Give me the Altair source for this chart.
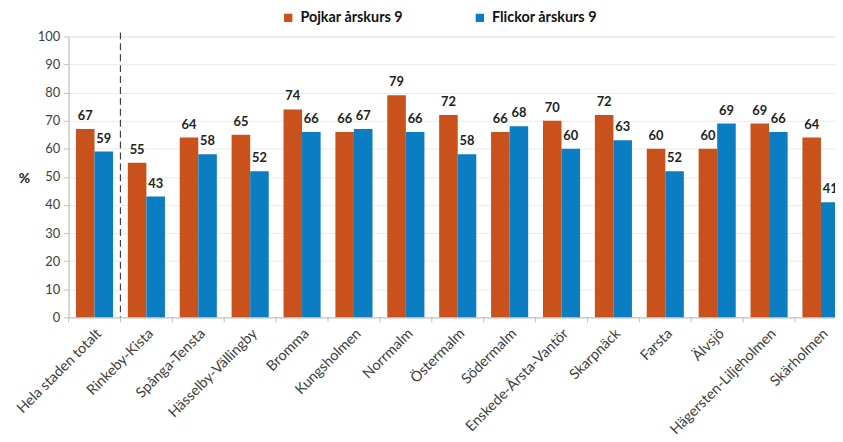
import altair as alt
import pandas as pd

categories = ["Hela staden totalt", "Rinkeby-Kista", "Spånga-Tensta", "Hässelby-Vällingby",
              "Bromma", "Kungsholmen", "Norrmalm", "Östermalm", "Södermalm",
              "Enskede-Årsta-Vantör", "Skarpnäck", "Farsta", "Älvsjö",
              "Hägersten-Liljeholmen", "Skärholmen"]
pojkar = [67, 55, 64, 65, 74, 66, 79, 72, 66, 70, 72, 60, 60, 69, 64]
flickor = [59, 43, 58, 52, 66, 67, 66, 58, 68, 60, 63, 52, 69, 66, 41]
series = ["Pojkar årskurs 9", "Flickor årskurs 9"]
colors = ["#C9511C", "#0A7DC3"]
y_ticks = list(range(0, 101, 10))

rows = []
for c, p, f in zip(categories, pojkar, flickor):
    rows.append({"cat": c, "serie": series[0], "val": p})
    rows.append({"cat": c, "serie": series[1], "val": f})
df = pd.DataFrame(rows)
cat_df = pd.DataFrame({"cat": categories})
sep_df = pd.DataFrame({"cat": [categories[1]]})

W, H = 784, 283
FONT = "Lato"

xscale = alt.Scale(domain=categories, paddingInner=0.285, paddingOuter=0.1425)
yscale = alt.Scale(domain=[0, 100], nice=False)

x_axis = alt.Axis(title=None, labelAngle=-45, labelFontSize=14.5, labelColor="#404040",
                  labelPadding=9, ticks=False, domainColor="#BFBFBF", labelFont=FONT)
y_axis = alt.Axis(values=y_ticks, tickCount=11, title="%", titleAngle=0, titleX=-45, titleY=143,
                  titleAlign="center", titleBaseline="middle", titleFontSize=14,
                  titleFontWeight="bold", titleColor="#222222", titleFont=FONT,
                  labelFontSize=13, labelColor="#404040", labelFont=FONT,
                  gridColor="#EBEBEB", domainColor="#BFBFBF", tickColor="#BFBFBF",
                  tickSize=5, labelPadding=4, labelOverlap=False)

xoff = alt.XOffset("serie:N", sort=series, scale=alt.Scale(domain=series, paddingInner=0, paddingOuter=0))

bars = alt.Chart(df).mark_bar().encode(
    x=alt.X("cat:N", sort=categories, scale=xscale, axis=x_axis),
    xOffset=xoff,
    y=alt.Y("val:Q", scale=yscale, axis=y_axis),
    color=alt.Color("serie:N", sort=series, scale=alt.Scale(domain=series, range=colors),
                    legend=alt.Legend(orient="none", legendX=214, legendY=-26, direction="horizontal",
                                      title=None, symbolType="square", symbolSize=70,
                                      symbolStrokeWidth=0, labelFontSize=14.5, labelFontWeight="bold",
                                      labelFont=FONT, labelColor="#111111", columnPadding=70,
                                      labelOffset=5)),
)

labels = alt.Chart(df).mark_text(baseline="bottom", dy=-6, fontSize=13, fontWeight="bold",
                                 color="#222222", font=FONT).encode(
    x=alt.X("cat:N", sort=categories, scale=xscale, axis=x_axis),
    xOffset=xoff,
    y=alt.Y("val:Q", scale=yscale, axis=y_axis),
    text=alt.Text("val:Q"),
)

step = W / len(categories)
off = -0.285 * step / 2

ticks = alt.Chart(cat_df).mark_rule(color="#BFBFBF", xOffset=off).encode(
    x=alt.X("cat:N", sort=categories, scale=xscale, bandPosition=0, axis=x_axis),
    y=alt.value(H), y2=alt.value(H + 5),
)

sep = alt.Chart(sep_df).mark_rule(color="#404040", strokeDash=[7, 4], strokeWidth=1.2, xOffset=off).encode(
    x=alt.X("cat:N", sort=categories, scale=xscale, bandPosition=0, axis=x_axis),
    y=alt.value(-4), y2=alt.value(H),
)

chart = alt.layer(bars, labels, ticks, sep).properties(
    width=W, height=H,
    autosize=alt.AutoSizeParams(type="none"),
    padding={"left": 61, "top": 27, "right": -12, "bottom": 124},
).configure_view(stroke=None).configure(font=FONT)

chart.save("out.html", embed_options={"renderer": "svg", "actions": False})
